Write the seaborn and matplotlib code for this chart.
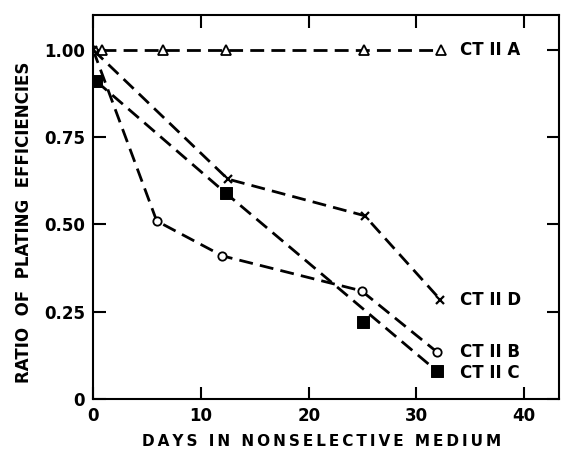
import matplotlib
matplotlib.use("Agg")
import matplotlib.pyplot as plt
import seaborn as sns

# values (days, ratio of plating efficiencies)
a_days = [0.8, 6.5, 12.3, 25.1, 32.3]
a_vals = [1.00, 1.00, 1.00, 1.00, 1.00]

b_days = [0.0, 5.9, 12.0, 24.9, 31.9]
b_vals = [1.00, 0.51, 0.41, 0.31, 0.135]

c_days = [0.3, 12.3, 25.0, 31.9]
c_vals = [0.91, 0.59, 0.22, 0.08]
# the dashed line for C skips the day-25 point
c_line_days = [0.3, 12.3, 31.9]
c_line_vals = [0.91, 0.59, 0.08]

d_days = [0.0, 12.5, 25.2, 32.2]
d_vals = [1.00, 0.63, 0.525, 0.285]

labels = ["CT II A", "CT II B", "CT II C", "CT II D"]
label_y = [1.00, 0.135, 0.075, 0.285]


def spaced(s):
    # wide letter spacing like the original
    return "\u2009".join(s)


sns.set_style("ticks")
plt.rcParams["font.family"] = ["DejaVu Sans"]
plt.rcParams["font.weight"] = "bold"
plt.rcParams["text.color"] = "black"
plt.rcParams["axes.labelcolor"] = "black"
plt.rcParams["xtick.color"] = "black"
plt.rcParams["ytick.color"] = "black"
plt.rcParams["axes.edgecolor"] = "black"

fig = plt.figure(figsize=(5.61, 4.53), dpi=100)
ax = fig.add_axes([0.166, 0.119, 0.830, 0.848])

dash = dict(color="black", linewidth=2.0, dashes=(5, 2.6))

sns.lineplot(x=a_days, y=a_vals, ax=ax, sort=False, marker="^", markersize=7,
             markerfacecolor="white", markeredgecolor="black", markeredgewidth=1.3, **dash)
sns.lineplot(x=b_days, y=b_vals, ax=ax, sort=False, marker="o", markersize=6,
             markerfacecolor="white", markeredgecolor="black", markeredgewidth=1.3, **dash)
sns.lineplot(x=d_days, y=d_vals, ax=ax, sort=False, marker="x", markersize=6,
             markeredgecolor="black", markeredgewidth=1.6, **dash)
sns.lineplot(x=c_line_days, y=c_line_vals, ax=ax, sort=False, **dash)
sns.scatterplot(x=c_days, y=c_vals, ax=ax, marker="s", s=75, color="black",
                edgecolor="black", zorder=5)

for lab, y in zip(labels, label_y):
    ax.text(34.0, y, lab, fontsize=12, fontweight="bold", va="center", ha="left")

ax.set_xlim(0, 43.2)
ax.set_ylim(0, 1.10)
ax.set_xticks([0, 10, 20, 30, 40])
ax.set_xticklabels(["0", "10", "20", "30", "40"])
ax.set_yticks([0, 0.25, 0.5, 0.75, 1.0])
ax.set_yticklabels(["0", "0.25", "0.50", "0.75", "1.00"])
ax.tick_params(direction="in", length=9, width=1.5, top=True, right=True,
               labelsize=12, pad=6)
for s in ax.spines.values():
    s.set_linewidth(1.5)

ax.set_xlabel(spaced("DAYS IN NONSELECTIVE MEDIUM"), fontsize=11, fontweight="bold")
ax.xaxis.set_label_coords(0.49, -0.09)
ax.set_ylabel("RATIO  OF  PLATING  EFFICIENCIES", fontsize=12, fontweight="bold")
ax.yaxis.set_label_coords(-0.13, 0.46)

fig.savefig("out.png", dpi=100)
